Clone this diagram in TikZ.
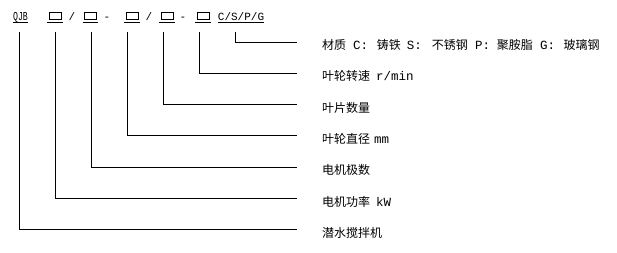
\documentclass[tikz,border=0pt]{standalone}
\usepackage{fontspec}
\newfontfamily\cjk{Noto Sans CJK SC}
\newfontfamily\monof{Liberation Mono}
\begin{document}
\begin{tikzpicture}[x=1pt,y=-1pt]
\useasboundingbox[fill=white] (0,0) rectangle (617,253);
\tikzset{
 code/.style={font=\monof\fontsize{11}{11}\selectfont, inner sep=0pt, anchor=base},
 slot/.style={draw, minimum width=12pt, minimum height=7.5pt, inner sep=0pt, line width=0.8pt},
 lbl/.style={font=\cjk\fontsize{12}{12}\selectfont, anchor=west, inner sep=0pt},
 lead/.style={line width=0.9pt},
 uline/.style={line width=0.8pt}
}
\newcommand{\lt}[1]{{\monof\fontsize{12.5}{12.5}\selectfont #1}}
% top row
\node[code] (qjb) at (20.5,20.5) {\scalebox{0.75}[1.1]{QJB}};
\node[slot] (b1) at (55,16) {};
\node[code] (s1) at (72,20.5) {/};
\node[slot] (b2) at (90.5,16) {};
\node[code] (d1) at (107,20.5) {-};
\node[slot] (b3) at (132,16) {};
\node[code] (s2) at (149,20.5) {/};
\node[slot] (b4) at (167,16) {};
\node[code] (d2) at (183,20.5) {-};
\node[slot] (b5) at (203,16) {};
\node[code] (mat) at (241,20.5) {C/S/P/G};
% underlines
\draw[uline] ([yshift=-1.5pt]qjb.base west) -- ([yshift=-1.5pt]qjb.base east);
\draw[uline] ([yshift=-1.5pt]mat.base west) -- ([yshift=-1.5pt]mat.base east);
\foreach \b in {b1,b2,b3,b4,b5}
  \draw[uline] ([xshift=-1.5pt,yshift=-2.5pt]\b.south west) -- ([xshift=1.5pt,yshift=-2.5pt]\b.south east);
% labels
\node[lbl] (l6) at (322,45) {\makebox[31pt][l]{材质}\makebox[23.7pt][l]{\lt{C:}}\makebox[30pt][l]{铸铁}\makebox[25pt][l]{\lt{S:}}\makebox[43.3pt][l]{不锈钢}\makebox[21.7pt][l]{\lt{P:}}\makebox[43.3pt][l]{聚胺脂}\makebox[23.3pt][l]{\lt{G:}}玻璃钢};
\node[lbl] (l5) at (322,76.3) {叶轮转速\hspace{6pt}\lt{r/min}};
\node[lbl] (l4) at (322,107.6) {叶片数量};
\node[lbl] (l3) at (322,138.9) {叶轮直径\hspace{4pt}\lt{mm}};
\node[lbl] (l2) at (322,170.2) {电机极数};
\node[lbl] (l1) at (322,201.5) {电机功率\hspace{6pt}\lt{kW}};
\node[lbl] (l0) at (322,232.8) {潜水搅拌机};
% leader coordinates
\foreach \k/\x/\y in {0/19/229.8,1/55/198.5,2/91/167.2,3/127/135.9,4/163/104.6,5/199/73.3,6/235.5/42}{
  \coordinate (t\k) at (\x,32);
  \coordinate (e\k) at (297,\y);
  \draw[lead] (t\k) |- (e\k);
}
\end{tikzpicture}
\end{document}
